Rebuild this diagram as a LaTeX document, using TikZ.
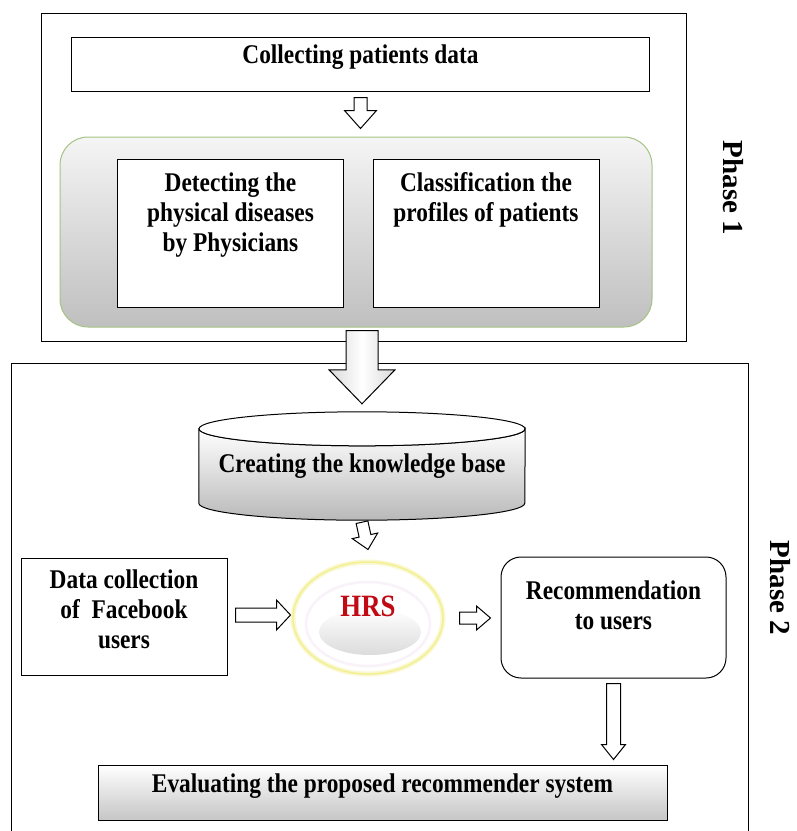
\documentclass[tikz,border=0pt]{standalone}
\usepackage{fontspec}
\setmainfont{Liberation Serif}[FakeStretch=0.865]
\newfontfamily\phasefont{Liberation Serif}
\usetikzlibrary{shapes.geometric, calc, positioning}
\definecolor{hrsred}{RGB}{192, 10, 20}
\definecolor{panelgreen}{RGB}{165, 195, 130}
\definecolor{glowyellow}{RGB}{240, 235, 120}

% hollow block arrow: [style]{from}{to}{half shaft}{half head}{head length}
\newcommand{\blockarrow}[6][hollow]{%
    \coordinate (ba-base) at ($(#3)!#6!(#2)$);
    \draw[#1] ($(#2)!#4!90:(#3)$) -- ($(ba-base)!#4!90:(#3)$)
        -- ($(ba-base)!#5!90:(#3)$) -- (#3)
        -- ($(ba-base)!#5!-90:(#3)$) -- ($(ba-base)!#4!-90:(#3)$)
        -- ($(#2)!#4!-90:(#3)$) -- cycle;
}

\begin{document}
\begin{tikzpicture}[
    x=1pt, y=-1pt,
    frame/.style={draw, line width=1pt, inner sep=0pt},
    box/.style={draw, line width=1pt, fill=white, inner sep=0pt},
    txt/.style={font=\bfseries\fontsize{27}{30}\selectfont, align=center, inner sep=0pt},
    phase/.style={font=\phasefont\bfseries\fontsize{29}{30}\selectfont, rotate=-90, inner sep=0pt},
    hollow/.style={draw, line width=1pt, fill=white}
]
    \useasboundingbox (0,0) rectangle (797,831);

    % Phase 1
    \node[frame, minimum width=645pt, minimum height=328pt] (phase1) at (363.5,177) {};
    \node[box, txt, text depth=19pt, minimum width=578pt, minimum height=54pt] (collect) at (360.5,64) {Collecting patients data};
    \node[draw=panelgreen, line width=1pt, rounded corners=28pt, top color=gray!8, bottom color=gray!50,
          minimum width=592pt, minimum height=190pt] (classpanel) at (356,232) {};
    \node[box, minimum width=226pt, minimum height=148pt] (detect) at (230.5,233) {};
    \node[box, minimum width=226pt, minimum height=148pt] (classify) at (486,233) {};
    \node[txt, anchor=north] (detecttext) at ([yshift=-14pt]detect.north) {Detecting the\\physical diseases\\by Physicians};
    \node[txt, anchor=north] (classifytext) at ([yshift=-14pt]classify.north) {Classification the\\profiles of patients};
    \node[phase] (phaseone) at (733,188) {Phase 1};

    % Phase 2
    \node[frame, minimum width=737pt, minimum height=480pt] (phase2) at (379.5,603) {};

    % Knowledge base
    \node[inner sep=0pt, minimum width=326pt, minimum height=74pt] (kb) at (362,466) {};
    \shade[draw, line width=1pt, top color=white, bottom color=gray!55]
        (kb.north west) -- (kb.south west) arc[start angle=180, end angle=360, x radius=163pt, y radius=17pt]
        -- (kb.north east) arc[start angle=0, end angle=-180, x radius=163pt, y radius=17pt] -- cycle;
    \draw[line width=1pt, fill=white] (kb.north) ellipse [x radius=163pt, y radius=17pt];
    \node[txt] (kbtext) at (kb) {Creating the knowledge base};

    % Facebook data
    \node[box, txt, text depth=14pt, minimum width=206pt, minimum height=117pt] (data) at (124,616.5) {Data collection\\of~ Facebook\\users};

    % HRS
    \node[ellipse, draw=glowyellow!35, line width=5pt, fill=white, minimum width=150pt, minimum height=112pt] (hrs) at (368,618) {};
    \draw[glowyellow!80, line width=1.5pt] (hrs.center) ellipse [x radius=75pt, y radius=56pt];
    \draw[violet!5, line width=2.5pt] (368,624) ellipse [x radius=62pt, y radius=42pt];
    \shade[top color=white, bottom color=gray!28] (370,632) ellipse [x radius=51pt, y radius=23pt];
    \node[font=\bfseries\fontsize{31}{31}\selectfont, text=hrsred, inner sep=0pt] (hrstext) at (368,606) {HRS};

    % Recommendation
    \node[box, rounded corners=20pt, minimum width=225pt, minimum height=121pt] (rec) at (613.5,617.5) {};
    \node[txt, anchor=north] (rectext) at ([yshift=-24pt]rec.north) {Recommendation\\to users};

    % Evaluation
    \node[draw, line width=1pt, top color=white, bottom color=gray!45, txt, text depth=18pt,
          minimum width=569pt, minimum height=55pt] (eval) at (382.5,792.5) {Evaluating the proposed recommender system};
    \node[phase] (phasetwo) at (780,588) {Phase 2};

    % Arrows
    \coordinate (a1s) at ([yshift=-6pt]collect.south);
    \coordinate (a1e) at ($(collect.south |- classpanel.north)+(0,-8)$);
    \blockarrow{a1s}{a1e}{6.5pt}{16pt}{18pt}

    \coordinate (a2s) at ($(kb.south)+(0,19)$);
    \coordinate (a2e) at ($(hrs.north)+(0,-10)$);
    \blockarrow{a2s}{a2e}{6pt}{13pt}{14pt}

    \coordinate (a3s) at ($(data.east |- hrs.west)+(8,-3)$);
    \coordinate (a3e) at ($(hrs.west)+(0,-3)$);
    \blockarrow{a3s}{a3e}{7pt}{15pt}{14pt}

    \coordinate (a4s) at ($(hrs.east)+(14,0)$);
    \coordinate (a4e) at ($(hrs.east -| rec.west)+(-10,0)$);
    \blockarrow{a4s}{a4e}{6pt}{12pt}{14pt}

    \coordinate (a5s) at ([yshift=-5pt]rec.south);
    \coordinate (a5e) at ($(rec.south |- eval.north)+(0,-5)$);
    \blockarrow{a5s}{a5e}{7pt}{12pt}{15pt}

    \coordinate (a6s) at ($(kb.north |- classpanel.south)+(0,3)$);
    \coordinate (a6e) at ($(kb.north)+(0,-25)$);
    \blockarrow[draw, line width=1pt, left color=gray!30, right color=gray!30, middle color=white]{a6s}{a6e}{16pt}{33pt}{34pt}
\end{tikzpicture}
\end{document}
